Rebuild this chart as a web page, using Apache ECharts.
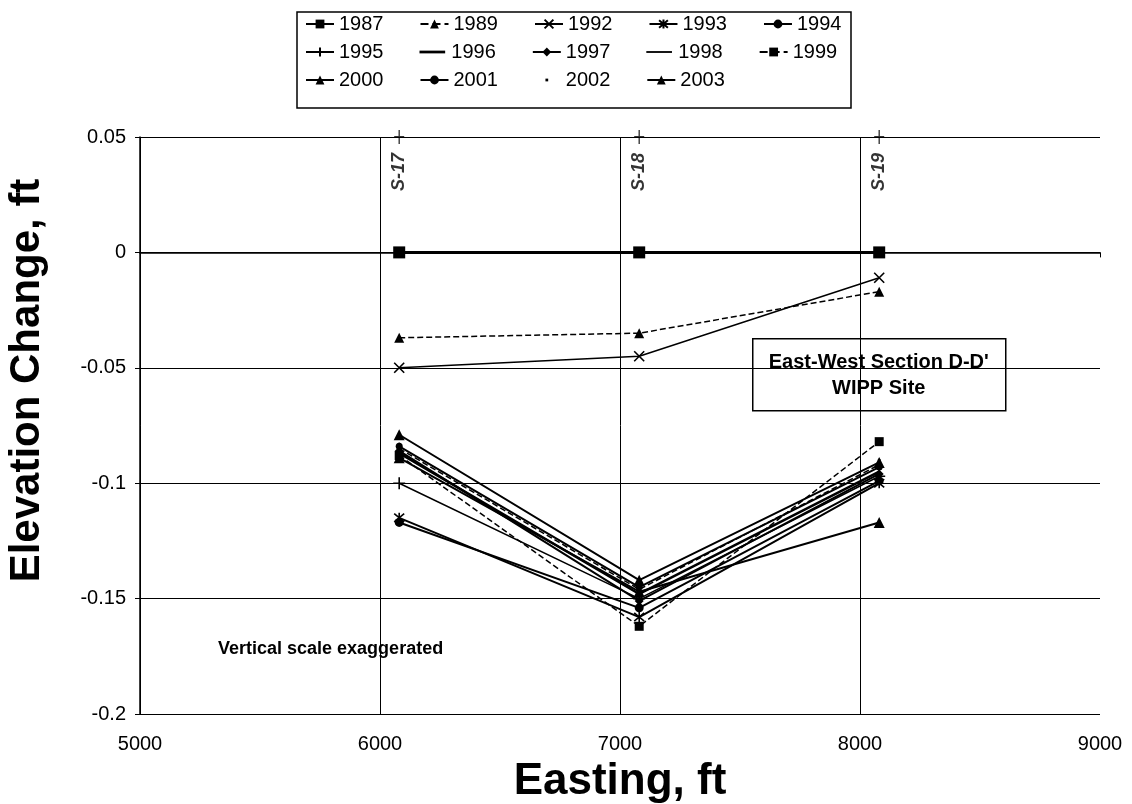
<!DOCTYPE html>
<html>
<head>
<meta charset="utf-8">
<script src="https://cdn.jsdelivr.net/npm/echarts@6/dist/echarts.min.js"></script>
<style>
  html, body { margin: 0; background: #fff; }
  #chart { width: 1132px; height: 804px; }
</style>
</head>
<body>
<div id="chart"></div>
<script>
// survey monuments along section D-D'
const wellNames = ['S-17', 'S-18', 'S-19'];
const easting = [6080, 7080, 8080];
const wellTop = [0.05, 0.05, 0.05];

// elevation change (ft) at S-17, S-18, S-19
const v1987 = [0, 0, 0];
const v1989 = [-0.037, -0.035, -0.017];
const v1992 = [-0.050, -0.045, -0.011];
const v1993 = [-0.115, -0.158, -0.100];
const v1994 = [-0.117, -0.154, -0.099];
const v1995 = [-0.100, -0.150, -0.097];
const v1996 = [-0.087, -0.148, -0.095];
const v1997 = [-0.086, -0.151, -0.096];
const v1998 = [-0.085, -0.146, -0.092];
const v1999 = [-0.088, -0.162, -0.082];
const v2000 = [-0.079, -0.142, -0.091];
const v2001 = [-0.084, -0.145, -0.093];
const v2002 = [-0.083, -0.144, -0.090];
const v2003 = [-0.089, -0.147, -0.117];

const xTicks = [5000, 6000, 7000, 8000, 9000];
const yTicks = [-0.2, -0.15, -0.1, -0.05, 0, 0.05];

const legendRows = [
  ['1987', '1989', '1992', '1993', '1994'],
  ['1995', '1996', '1997', '1998', '1999'],
  ['2000', '2001', '2002', '2003']
];

const X_MARK = 'path://M0,0L10,10M10,0L0,10';
const STAR_MARK = 'path://M0,0L10,10M10,0L0,10M5,-1L5,11';
const PLUS_MARK = 'path://M5,0L5,10M0,5L10,5';

// legend icons for the years drawn without a marker
const legendIcons = {
  '1996': 'path://M0,0M28,12M0,4.5L28,4.5L28,7.5L0,7.5Z',
  '1998': 'path://M0,0M28,12M0,5L28,5L28,7L0,7Z',
  '2002': 'path://M0,0M28,12M12.5,4.5L15.5,4.5L15.5,7.5L12.5,7.5Z'
};

// name, values, symbol, size, line width, line type
const seriesDefs = [
  ['1987', v1987, 'rect', 12, 3, 'solid'],
  ['1989', v1989, 'triangle', 10, 1.5, 'dashed'],
  ['1992', v1992, X_MARK, 10, 1.5, 'solid'],
  ['1993', v1993, STAR_MARK, 10, 2, 'solid'],
  ['1994', v1994, 'circle', 9, 2, 'solid'],
  ['1995', v1995, PLUS_MARK, 12, 1.5, 'solid'],
  ['1996', v1996, 'none', 0, 2.5, 'solid'],
  ['1997', v1997, 'diamond', 9, 2, 'solid'],
  ['1998', v1998, 'none', 0, 1.5, 'dashed'],
  ['1999', v1999, 'rect', 9, 1.5, 'dashed'],
  ['2000', v2000, 'triangle', 11, 2, 'solid'],
  ['2001', v2001, 'circle', 7, 2, 'solid'],
  ['2002', v2002, 'circle', 3, 0, 'solid'],
  ['2003', v2003, 'triangle', 11, 2, 'solid']
];

const chart = echarts.init(document.getElementById('chart'));

const series = seriesDefs.map(([name, vals, symbol, size, width, type]) => ({
  name: name,
  type: 'line',
  data: easting.map((x, i) => [x, vals[i]]),
  symbol: symbol,
  symbolSize: size,
  showAllSymbol: true,
  lineStyle: { color: '#000', width: width, type: type },
  itemStyle: { color: '#000', borderColor: '#000', borderWidth: symbol.startsWith('path') ? 1.6 : 0 },
  emphasis: { disabled: true },
  z: 3
}));

series.push({
  name: 'wells',
  type: 'scatter',
  data: easting.map((x, i) => ({ value: [x, wellTop[i]], name: wellNames[i] })),
  symbol: PLUS_MARK,
  symbolSize: [10, 14],
  itemStyle: { color: '#000', borderColor: '#000', borderWidth: 1.6 },
  label: {
    show: true,
    formatter: p => p.name,
    position: 'bottom',
    distance: 8,
    rotate: 90,
    align: 'right',
    verticalAlign: 'middle',
    fontFamily: 'Liberation Sans',
    fontSize: 18,
    fontWeight: 'bold',
    fontStyle: 'italic',
    color: '#000'
  },
  emphasis: { disabled: true },
  clip: false,
  z: 4
});

const legends = legendRows.map((row, r) => ({
  data: row.map(n => legendIcons[n] ? { name: n, icon: legendIcons[n] } : n),
  orient: 'horizontal',
  left: 305,
  top: 14 + r * 28,
  padding: 0,
  itemGap: 36,
  itemWidth: 28,
  itemHeight: 11,
  selectedMode: false,
  textStyle: { fontFamily: 'Liberation Sans', fontSize: 20, color: '#000', width: 46 }
}));

chart.setOption({
  animation: false,
  backgroundColor: '#fff',
  legend: legends,
  grid: { left: 140, right: 32, top: 137, bottom: 90, containLabel: false, outerBoundsMode: 'none' },
  xAxis: {
    type: 'value',
    min: xTicks[0],
    max: xTicks[xTicks.length - 1],
    interval: 1000,
    name: 'Easting, ft',
    nameLocation: 'middle',
    nameGap: 46,
    nameTextStyle: { fontFamily: 'Liberation Sans', fontSize: 44, fontWeight: 'bold', color: '#000' },
    axisLine: { lineStyle: { color: '#000', width: 1.5 } },
    axisTick: { show: true, length: 5, lineStyle: { color: '#000' } },
    axisLabel: { fontFamily: 'Liberation Sans', fontSize: 20, color: '#000', margin: 20, formatter: v => String(v) },
    splitLine: { show: true, showMaxLine: false, lineStyle: { color: '#000', width: 1 } }
  },
  yAxis: {
    type: 'value',
    min: yTicks[0],
    max: yTicks[yTicks.length - 1],
    interval: 0.05,
    name: 'Elevation Change, ft',
    nameLocation: 'middle',
    nameGap: 92,
    nameTextStyle: { fontFamily: 'Liberation Sans', fontSize: 42, fontWeight: 'bold', color: '#000', padding: [0, 0, 0, 90] },
    axisLine: { lineStyle: { color: '#000', width: 1.5 } },
    axisTick: { show: true, length: 5, lineStyle: { color: '#000' } },
    axisLabel: { fontFamily: 'Liberation Sans', fontSize: 20, color: '#000', margin: 14 },
    splitLine: { show: true, lineStyle: { color: '#000', width: 1 } }
  },
  graphic: [
    {
      type: 'rect',
      shape: { x: 297, y: 12, width: 554, height: 96 },
      style: { fill: 'none', stroke: '#000', lineWidth: 1.5 },
      z: 1
    },
    {
      type: 'group',
      left: 752,
      top: 338,
      z: 10,
      children: [
        {
          type: 'rect',
          shape: { x: 0, y: 0, width: 253, height: 72 },
          style: { fill: '#fff', stroke: '#000', lineWidth: 1.5 }
        },
        {
          type: 'text',
          x: 126, y: 24,
          style: { text: "East-West Section D-D'", align: 'center', verticalAlign: 'middle',
            font: 'bold 20px "Liberation Sans"', fill: '#000' }
        },
        {
          type: 'text',
          x: 126, y: 50,
          style: { text: 'WIPP Site', align: 'center', verticalAlign: 'middle',
            font: 'bold 20px "Liberation Sans"', fill: '#000' }
        }
      ]
    },
    {
      type: 'text',
      left: 218,
      top: 640,
      z: 10,
      style: { text: 'Vertical scale exaggerated', font: 'bold 18px "Liberation Sans"', fill: '#000' }
    }
  ],
  series: series
});
</script>
</body>
</html>
